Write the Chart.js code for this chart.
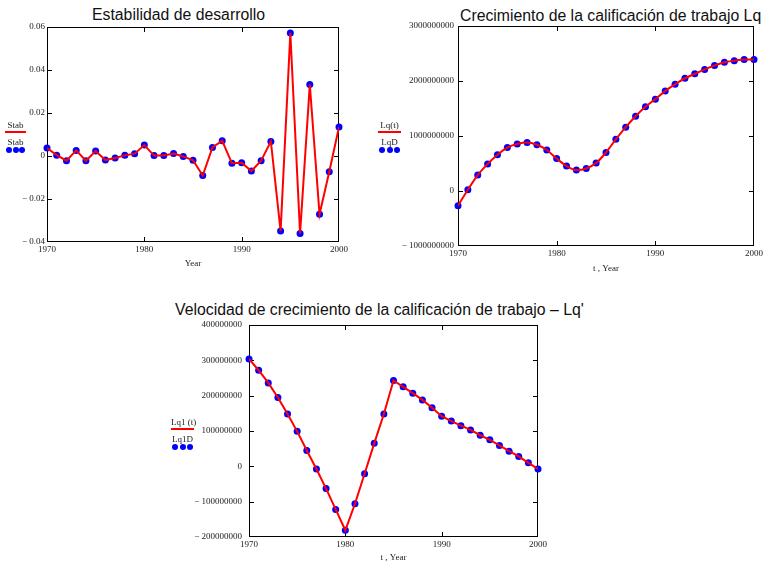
<!DOCTYPE html>
<html>
<head>
<meta charset="utf-8">
<script src="https://cdn.jsdelivr.net/npm/chart.js@4/dist/chart.umd.min.js"></script>
<style>
  body { margin: 0; background: #fff; width: 766px; height: 565px; position: relative; overflow: hidden; font-family: "Liberation Serif", serif; }
  canvas { position: absolute; }
  .title { position: absolute; font-family: "Liberation Sans", Arial, sans-serif; font-size: 15.8px; line-height: 16px; color: #111; white-space: nowrap; }
  .leg { position: absolute; font-size: 9px; line-height: 10px; color: #222; text-align: center; white-space: nowrap; }
  .leg-line { position: absolute; height: 2px; background: #f00; }
  .leg-dots { position: absolute; display: flex; justify-content: space-between; }
  .leg-dots span { width: 6px; height: 6px; border-radius: 50%; background: #00f; }
</style>
</head>
<body>

<div class="title" style="left:92px; top:7px;">Estabilidad de desarrollo</div>
<div class="title" style="left:460px; top:8px;">Crecimiento de la calificación de trabajo Lq</div>
<div class="title" style="left:175px; top:302px;">Velocidad de crecimiento de la calificación de trabajo – Lq'</div>

<canvas id="chart-stab" width="350" height="272" style="left:0; top:0;"></canvas>
<canvas id="chart-lq" width="396" height="276" style="left:370px; top:0;"></canvas>
<canvas id="chart-lq1" width="400" height="270" style="left:150px; top:295px;"></canvas>

<script>
  // ============ DATOS ============
  const years = [1970, 1971, 1972, 1973, 1974, 1975, 1976, 1977, 1978, 1979,
                 1980, 1981, 1982, 1983, 1984, 1985, 1986, 1987, 1988, 1989,
                 1990, 1991, 1992, 1993, 1994, 1995, 1996, 1997, 1998, 1999, 2000];

  const stab = [0.0037, 0.0004, -0.0022, 0.0026, -0.0022, 0.0023, -0.0019, -0.0009, 0.0003, 0.0011,
                0.0051, 0.0002, 0.0002, 0.0012, -0.0002, -0.002, -0.0091, 0.004, 0.0071, -0.0034,
                -0.0031, -0.007, -0.0022, 0.0068, -0.0349, 0.0572, -0.036, 0.0332, -0.0271, -0.0073, 0.0135];

  const lq = [-267000000, 24000000, 290000000, 490000000, 660000000, 790000000, 855000000, 880000000, 840000000, 745000000,
              590000000, 455000000, 380000000, 410000000, 510000000, 700000000, 940000000, 1160000000, 1360000000, 1530000000,
              1670000000, 1820000000, 1940000000, 2050000000, 2130000000, 2210000000, 2280000000, 2340000000, 2370000000, 2390000000, 2390000000];

  const lq1 = [304000000, 272000000, 236000000, 195000000, 148000000, 99000000, 45000000, -7500000, -63000000, -122000000,
               -181000000, -106000000, -21000000, 65000000, 148000000, 243000000, 225000000, 207000000, 188000000, 166000000,
               142000000, 128000000, 115000000, 103000000, 88000000, 75000000, 59000000, 43000000, 28000000, 10000000, -7500000];

  const yearTicks = [1970, 1980, 1990, 2000];
  const stabTicks = [-0.04, -0.02, 0, 0.02, 0.04, 0.06];
  const lqTicks = [-1000000000, 0, 1000000000, 2000000000, 3000000000];
  const lq1Ticks = [-200000000, -100000000, 0, 100000000, 200000000, 300000000, 400000000];

  // ============ LEYENDAS (HTML) ============
  function leyenda(x, y, w, nombreLinea, nombrePuntos) {
    const t1 = document.createElement('div');
    t1.className = 'leg';
    Object.assign(t1.style, { left: x + 'px', top: (y - 5) + 'px', width: w + 'px' });
    t1.textContent = nombreLinea;
    const ln = document.createElement('div');
    ln.className = 'leg-line';
    Object.assign(ln.style, { left: x + 'px', top: (y + 6) + 'px', width: w + 'px' });
    const t2 = document.createElement('div');
    t2.className = 'leg';
    Object.assign(t2.style, { left: x + 'px', top: (y + 12) + 'px', width: w + 'px' });
    t2.textContent = nombrePuntos;
    const dots = document.createElement('div');
    dots.className = 'leg-dots';
    Object.assign(dots.style, { left: (x + 1) + 'px', top: (y + 22) + 'px', width: (w - 2) + 'px' });
    dots.innerHTML = '<span></span><span></span><span></span>';
    document.body.append(t1, ln, t2, dots);
  }
  leyenda(5, 125, 21, 'Stab', 'Stab');
  leyenda(378, 125, 23, 'Lq(t)', 'LqD');
  leyenda(171, 422, 23, 'Lq1 (t)', 'Lq1D');

  // ============ MARCO Y TICKS HACIA DENTRO ============
  const marco = {
    id: 'marco',
    beforeDatasetsDraw(chart) {
      const { ctx, chartArea: a, scales: { x, y } } = chart;
      const len = 5;
      ctx.save();
      ctx.strokeStyle = '#000';
      ctx.lineWidth = 1;
      ctx.strokeRect(a.left + 0.5, a.top + 0.5, a.width - 1, a.height - 1);
      ctx.beginPath();
      x.ticks.slice(1, -1).forEach(t => {
        const px = Math.round(x.getPixelForValue(t.value)) + 0.5;
        ctx.moveTo(px, a.bottom); ctx.lineTo(px, a.bottom - len);
        ctx.moveTo(px, a.top); ctx.lineTo(px, a.top + len);
      });
      y.ticks.slice(1, -1).forEach(t => {
        const py = Math.round(y.getPixelForValue(t.value)) + 0.5;
        ctx.moveTo(a.left, py); ctx.lineTo(a.left + len, py);
        ctx.moveTo(a.right, py); ctx.lineTo(a.right - len, py);
      });
      ctx.stroke();
      ctx.restore();
    }
  };

  const fuente = { family: "'Liberation Serif', serif", size: 9 };

  function menos(v, txt) {
    return v < 0 ? '− ' + txt : txt;
  }

  function crearGrafico(id, opts) {
    const puntos = opts.values.map((v, i) => ({ x: years[i], y: v }));
    return new Chart(document.getElementById(id).getContext('2d'), {
      type: 'line',
      data: {
        datasets: [{
          label: opts.lineLabel,
          data: puntos,
          borderColor: '#ff0000',
          borderWidth: 2,
          pointRadius: 0,
          tension: opts.tension,
          cubicInterpolationMode: opts.tension ? 'monotone' : 'default',
          fill: false
        }, {
          label: opts.dotLabel,
          data: puntos,
          showLine: false,
          pointRadius: 3.5,
          pointBackgroundColor: '#0000ff',
          pointBorderColor: '#0000ff',
          pointBorderWidth: 0,
          clip: false
        }]
      },
      options: {
        responsive: false,
        animation: false,
        events: [],
        layout: { padding: opts.padding },
        plugins: { legend: { display: false }, tooltip: { enabled: false } },
        scales: {
          x: {
            type: 'linear',
            min: 1970, max: 2000,
            afterBuildTicks: s => { s.ticks = yearTicks.map(v => ({ value: v })); },
            afterFit: s => { s.height = opts.xHeight; },
            grid: { display: false, drawTicks: false },
            border: { display: false },
            ticks: { font: fuente, color: '#222', padding: 2, maxRotation: 0, callback: v => String(v) },
            title: { display: true, text: opts.xTitle, font: fuente, color: '#222', padding: { top: 0, bottom: opts.xTitlePad } }
          },
          y: {
            min: opts.yTicks[0], max: opts.yTicks[opts.yTicks.length - 1],
            afterBuildTicks: s => { s.ticks = opts.yTicks.map(v => ({ value: v })); },
            afterFit: s => { s.width = opts.yWidth; },
            grid: { display: false, drawTicks: false },
            border: { display: false },
            ticks: { font: fuente, color: '#222', padding: opts.yPad, callback: opts.yFormat }
          }
        }
      },
      plugins: [marco]
    });
  }

  crearGrafico('chart-stab', {
    values: stab, lineLabel: 'Stab', dotLabel: 'Stab', tension: 0,
    yTicks: stabTicks, yWidth: 47, yPad: 2, xHeight: 30, xTitle: 'Year', xTitlePad: 2.5,
    padding: { top: 27, right: 11, left: 0, bottom: 0 },
    yFormat: v => v === 0 ? '0' : menos(v, Math.abs(v).toFixed(2))
  });

  crearGrafico('chart-lq', {
    values: lq, lineLabel: 'Lq(t)', dotLabel: 'LqD', tension: 0.4,
    yTicks: lqTicks, yWidth: 88, yPad: 4, xHeight: 30, xTitle: 't , Year', xTitlePad: 1.5,
    padding: { top: 26, right: 12, left: 0, bottom: 0 },
    yFormat: v => menos(v, String(Math.abs(v)))
  });

  crearGrafico('chart-lq1', {
    values: lq1, lineLabel: 'Lq1 (t)', dotLabel: 'Lq1D', tension: 0,
    yTicks: lq1Ticks, yWidth: 99, yPad: 7, xHeight: 28, xTitle: 't , Year', xTitlePad: 2,
    padding: { top: 30, right: 12, left: 0, bottom: 0 },
    yFormat: v => menos(v, String(Math.abs(v)))
  });
</script>
</body>
</html>
